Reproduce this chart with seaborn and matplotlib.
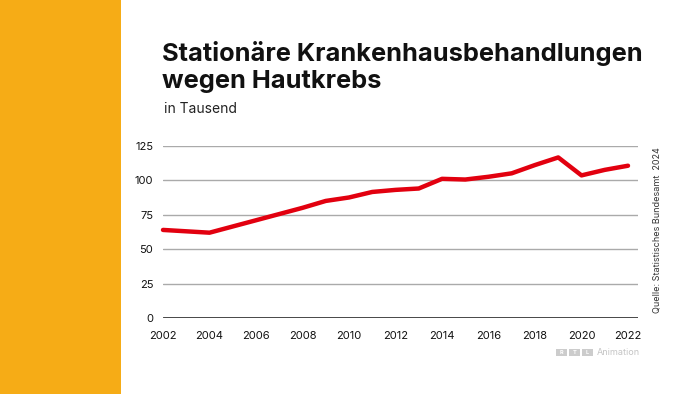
import matplotlib
matplotlib.use("Agg")
import matplotlib.pyplot as plt
import seaborn as sns
import pandas as pd
from matplotlib.patches import Rectangle

years = list(range(2002, 2023))
values = [64, 63, 62, 66.5, 71, 75.5, 80, 85, 87.5, 91.5, 93, 94, 101, 100.5, 102.5, 105, 111, 116.5, 103.5, 107.5, 110.5]
xticks = list(range(2002, 2023, 2))
yticks = [0, 25, 50, 75, 100, 125]

title = "Stationäre Krankenhausbehandlungen\nwegen Hautkrebs"
subtitle = "in Tausend"
source = "Quelle: Statistisches Bundesamt  2024"

sns.set_theme(style="white")
plt.rcParams['font.family'] = ['Inter', 'DejaVu Sans']

df = pd.DataFrame({"Jahr": years, "Wert": values})

fig = plt.figure(figsize=(7, 3.94), dpi=100)
fig.patch.set_facecolor("white")
# yellow band
fig.patches.append(Rectangle((0, 0), 121/700, 1, transform=fig.transFigure,
                             facecolor="#F6AC16", edgecolor="none", zorder=0))

ax = fig.add_axes([163/700, 1 - 318.3/394, 475/700, 172.6/394])
ax.set_facecolor("none")
for y in yticks[1:]:
    ax.axhline(y, color="#aaaaaa", lw=1.0, zorder=1)
ax.axhline(0, color="#111111", lw=1.8, zorder=2)

sns.lineplot(data=df, x="Jahr", y="Wert", ax=ax, color="#E2000F", lw=3.2,
             zorder=3, clip_on=False)

ax.set_xlim(2002, 2022.43)
ax.set_ylim(0, 125)
ax.set_xticks(xticks)
ax.set_xticklabels([str(t) for t in xticks])
ax.set_yticks(yticks)
ax.set_yticklabels([str(t) for t in yticks])
ax.tick_params(axis="both", length=0, labelsize=8, colors="#111111")
ax.tick_params(axis="x", pad=9)
ax.tick_params(axis="y", pad=7)
ax.set_xlabel("")
ax.set_ylabel("")
for s in ax.spines.values():
    s.set_visible(False)
ax.grid(False)

fig.text(162/700, 1 - 41/394, title, fontsize=18.3, fontweight="bold",
         ha="left", va="top", color="#111111", linespacing=1.2)
fig.text(164/700, 1 - 109/394, subtitle, fontsize=10, ha="left", va="center",
         color="#222222")
fig.text(657/700, 1 - 230/394, source, fontsize=6.5, rotation=90,
         ha="center", va="center", color="#333333")

# RTL logo
bx = [556, 569, 582]
letters = ["R", "T", "L"]
for x0, l in zip(bx, letters):
    fig.patches.append(Rectangle((x0/700, 1 - 356/394), 11/700, 7/394,
                                 transform=fig.transFigure, facecolor="#cccccc",
                                 edgecolor="none"))
    fig.text((x0 + 5.5)/700, 1 - 352.5/394, l, fontsize=4, color="white",
             ha="center", va="center", fontweight="bold")
fig.text(597/700, 1 - 352.5/394, "Animation", fontsize=6.5, color="#c4c4c4",
         ha="left", va="center")

fig.savefig("out.png", dpi=100)
